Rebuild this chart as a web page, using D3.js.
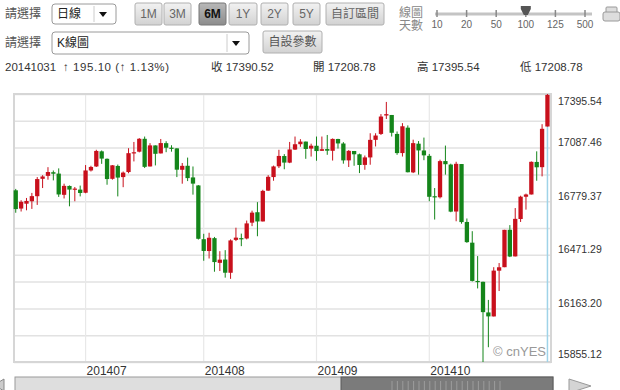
<!DOCTYPE html>
<html>
<head>
<meta charset="utf-8">
<script src="https://cdn.jsdelivr.net/npm/d3@7"></script>
<style>
  body { margin: 0; background: #fff; }
  svg { display: block; font-family: "Liberation Sans", Arial, "Noto Sans CJK TC", sans-serif; }
</style>
</head>
<body>
<div id="app"></div>
<script>
// daily candles, 100 trading days
const dates = [
  "20140612","20140613","20140616","20140617","20140618","20140619","20140620","20140623","20140624","20140625","20140626","20140627","20140630",
  "20140701","20140702","20140703","20140707","20140708","20140709","20140710","20140711","20140714","20140715","20140716","20140717","20140718","20140721","20140722","20140723","20140724","20140725","20140728","20140729","20140730","20140731",
  "20140801","20140804","20140805","20140806","20140807","20140808","20140811","20140812","20140813","20140814","20140815","20140818","20140819","20140820","20140821","20140822","20140825","20140826","20140827","20140828","20140829",
  "20140902","20140903","20140904","20140905","20140908","20140909","20140910","20140911","20140912","20140915","20140916","20140917","20140918","20140919","20140922","20140923","20140924","20140925","20140926","20140929","20140930",
  "20141001","20141002","20141003","20141006","20141007","20141008","20141009","20141010","20141013","20141014","20141015","20141016","20141017","20141020","20141021","20141022","20141023","20141024","20141027","20141028","20141029","20141030","20141031"
];
const opens = [
  16842,16737,16765,16779,16808,16908,16925,16946,16938,16816,16867,16845,16846,
  16828,16956,16979,17066,17023,16908,16982,16918,16947,17058,17064,17138,16979,17100,17054,17113,17087,17083,16960,16983,16916,16870,
  16561,16493,16567,16425,16444,16368,16557,16567,16565,16656,16716,16663,16840,16918,16980,17039,17001,17076,17107,17122,17082,
  17098,17069,17079,17069,17137,17111,17014,17068,17049,16988,17031,17132,17166,17272,17275,17166,17056,17202,16945,17110,17071,
  17040,16808,16802,17010,16990,16720,16993,16660,16541,16321,16316,16140,16117,16380,16400,16615,16462,16677,16805,16818,17005,16975,17208.78
];
const highs = [
  16850,16785,16798,16827,16918,16929,16975,16956,16968,16880,16870,16861,16869,
  16987,16983,17075,17071,17025,16987,16990,16950,17084,17120,17142,17151,17113,17100,17137,17124,17101,17084,16999,17030,16979,16872,
  16592,16598,16574,16492,16498,16560,16627,16593,16668,16725,16774,16845,16929,16984,17075,17050,17120,17151,17136,17122,17110,
  17151,17151,17160,17140,17138,17119,17073,17068,17053,17042,17170,17170,17280,17350,17275,17180,17228,17215,17133,17125,17145,
  17051,16855,17018,17099,16995,17006,16993,16680,16607,16464,16317,16212,16400,16424,16615,16642,16740,16811,16823,17008,17066,17222,17395.54
];
const lows = [
  16713,16720,16727,16735,16758,16855,16903,16899,16804,16795,16750,16779,16807,
  16825,16950,16976,16994,16874,16903,16807,16860,16940,17008,17060,16970,16979,16985,17054,17061,17064,16918,16880,16895,16817,16559,
  16437,16450,16374,16378,16340,16333,16550,16521,16560,16636,16578,16663,16839,16897,16970,16963,16998,17074,17092,17023,17036,
  17012,17068,17046,17013,17082,16995,16976,16983,16941,16960,16989,17094,17160,17252,17151,17046,17036,16945,16941,16932,17015,
  16779,16674,16795,16932,16716,16664,16650,16540,16318,16278,15855.12,15940,16117,16263,16400,16458,16462,16660,16731,16818,16897,16922,17208.78
];
const closes = [
  16734.19,16775.74,16781.01,16808.49,16906.62,16921.46,16947.08,16937.26,16818.13,16867.51,16846.13,16851.84,16826.60,
  16956.07,16976.24,17068.26,17024.21,16906.62,16985.61,16915.07,16943.81,17055.42,17060.68,17138.20,16976.81,17100.18,17051.73,17113.54,17086.63,17083.80,16960.57,16982.59,16912.11,16880.36,16563.30,
  16493.37,16569.28,16429.47,16443.34,16368.27,16553.93,16569.98,16560.54,16651.80,16713.58,16662.91,16838.74,16919.59,16979.13,17039.49,17001.22,17076.87,17106.70,17122.01,17079.57,17098.45,
  17067.56,17078.28,17069.58,17137.36,17111.42,17013.87,17068.71,17049.00,16987.51,17031.14,17131.97,17156.85,17265.99,17279.74,17172.68,17055.87,17210.06,16945.80,17113.15,17071.22,17042.90,
  16804.71,16801.05,17009.69,16991.91,16719.39,16994.22,16659.25,16544.10,16321.07,16315.19,16141.74,16117.24,16380.41,16399.67,16614.81,16461.32,16677.90,16805.41,16817.94,17005.75,16974.31,17195.42,17390.52
];
const yTickLabels = ["17395.54", "17087.46", "16779.37", "16471.29", "16163.20", "15855.12"];
const periodButtons = ["1M", "3M", "6M", "1Y", "2Y", "5Y", "自訂區間"];
const dayOptions = ["10", "20", "50", "100", "125", "500"];
const infoTexts = ["20141031", "↑ 195.10 (↑ 1.13%)", "收 17390.52", "開 17208.78", "高 17395.54", "低 17208.78"];

const W = 620, H = 390;
const svg = d3.select("#app").append("svg").attr("width", W).attr("height", H);

const defs = svg.append("defs");
function grad(id, c1, c2) {
  const g = defs.append("linearGradient").attr("id", id).attr("x1", 0).attr("y1", 0).attr("x2", 0).attr("y2", 1);
  g.append("stop").attr("offset", "0%").attr("stop-color", c1);
  g.append("stop").attr("offset", "100%").attr("stop-color", c2);
}
grad("btn", "#f2f2f2", "#d2d2d2");
grad("btnOn", "#b8b8b8", "#8c8c8c");

// ---------- top controls ----------
const ui = svg.append("g").attr("font-size", 12);

ui.selectAll("text.lbl").data([18, 47]).join("text")
  .attr("x", 5).attr("y", d => d).attr("fill", "#555").text("請選擇");

function dropdown(x, y, w, h, label, arrowX) {
  const g = ui.append("g");
  g.append("rect").attr("x", x).attr("y", y).attr("width", w).attr("height", h).attr("rx", 3)
    .attr("fill", "#fff").attr("stroke", "#9a9a9a");
  g.append("line").attr("x1", arrowX - 9).attr("x2", arrowX - 9).attr("y1", y + 2).attr("y2", y + h - 2).attr("stroke", "#ccc");
  g.append("text").attr("x", x + 5).attr("y", y + h / 2 + 4).attr("fill", "#222").text(label);
  g.append("path").attr("d", `M${arrowX - 4},${y + h / 2 - 2}L${arrowX + 4},${y + h / 2 - 2}L${arrowX},${y + h / 2 + 3}Z`).attr("fill", "#111");
}
dropdown(52, 4, 64, 20, "日線", 103);
dropdown(52, 32, 197, 22, "K線圖", 236);

const btnX = d3.scaleOrdinal().domain(periodButtons).range([135, 164, 199, 229, 261, 293, 326]);
const btnW = d3.scaleOrdinal().domain(periodButtons).range([27, 27, 27, 28, 27, 27, 58]);
const btns = ui.selectAll("g.btn").data(periodButtons).join("g").attr("class", "btn");
btns.append("rect").attr("x", d => btnX(d)).attr("y", 3).attr("width", d => btnW(d)).attr("height", 22).attr("rx", 2)
  .attr("fill", d => d === "6M" ? "url(#btnOn)" : "url(#btn)").attr("stroke", d => d === "6M" ? "#777" : "#b0b0b0");
btns.append("text").attr("x", d => btnX(d) + btnW(d) / 2).attr("y", 18).attr("text-anchor", "middle")
  .attr("fill", d => d === "6M" ? "#111" : "#666").attr("font-weight", d => d === "6M" ? "bold" : "normal").text(d => d);

ui.append("rect").attr("x", 263).attr("y", 31).attr("width", 59).attr("height", 22).attr("rx", 2)
  .attr("fill", "url(#btn)").attr("stroke", "#b0b0b0");
ui.append("text").attr("x", 292.5).attr("y", 46).attr("text-anchor", "middle").attr("fill", "#555").text("自設參數");

ui.append("text").attr("x", 399).attr("y", 17).attr("fill", "#888").text("線圖");
ui.append("text").attr("x", 399).attr("y", 30).attr("fill", "#888").text("天數");

// day slider
const sx = d3.scalePoint().domain(dayOptions).range([437, 585]);
ui.append("line").attr("x1", 435).attr("x2", 592).attr("y1", 14).attr("y2", 14).attr("stroke", "#c4c4c4").attr("stroke-width", 3);
ui.selectAll("line.tk").data(dayOptions).join("line").attr("class", "tk")
  .attr("x1", d => sx(d)).attr("x2", d => sx(d)).attr("y1", 10).attr("y2", 17).attr("stroke", "#888").attr("stroke-width", 1.5);
ui.selectAll("text.tk").data(dayOptions).join("text").attr("class", "tk")
  .attr("x", d => sx(d)).attr("y", 28).attr("text-anchor", "middle").attr("font-size", 10).attr("fill", "#666").text(d => d);
const hx = sx("100");
ui.append("path").attr("d", `M${hx - 5},6L${hx + 5},6L${hx + 5},9L${hx + 2},15L${hx - 2},15L${hx - 5},9Z`).attr("fill", "#555");

// printer icon
const ic = ui.append("g").attr("fill", "#ddd").attr("stroke", "#9a9a9a");
ic.append("rect").attr("x", 606).attr("y", 7).attr("width", 11).attr("height", 6).attr("rx", 1);
ic.append("rect").attr("x", 603).attr("y", 12).attr("width", 17).attr("height", 9).attr("rx", 2);

// info row
const infoX = d3.scaleOrdinal().domain(infoTexts).range([5, 63, 211, 313, 417, 520]);
ui.selectAll("text.info").data(infoTexts).join("text").attr("class", "info")
  .attr("x", d => infoX(d)).attr("y", 71).attr("font-size", 11.5).attr("fill", "#333")
  .attr("textLength", (d, i) => i === 1 ? 106 : null).attr("lengthAdjust", "spacing")
  .text(d => d);

// ---------- chart ----------
const plot = { left: 14, right: 551, top: 94, bottom: 362 };
const x = d3.scaleBand().domain(dates).range([13.6, 549.6]).paddingInner(0.2);
const y = d3.scaleLinear().domain([d3.min(lows), d3.max(highs)]).range([plot.bottom, plot.top]);
const xc = d => x(d) + x.bandwidth() / 2;

const chart = svg.append("g");
chart.append("rect").attr("x", plot.left).attr("y", plot.top).attr("width", plot.right - plot.left)
  .attr("height", plot.bottom - plot.top).attr("fill", "#fff");

// horizontal grid: 10 equal steps between low and high
const [lo, hi] = y.domain();
const gridVals = d3.range(11).map(k => lo + k * (hi - lo) / 10);
chart.append("g")
  .attr("transform", `translate(${plot.left},0)`)
  .call(d3.axisLeft(y).tickValues(gridVals).tickSize(-(plot.right - plot.left)).tickFormat(""))
  .call(g => g.select(".domain").remove())
  .call(g => g.selectAll("line").attr("stroke", "#e2e2e2").attr("stroke-width", 1.5));

// month lines at first trading day of each month
const monthStarts = dates.filter((d, i) => i > 0 && d.slice(4, 6) !== dates[i - 1].slice(4, 6));
chart.selectAll("line.mon").data(monthStarts).join("line").attr("class", "mon")
  .attr("x1", d => xc(d)).attr("x2", d => xc(d)).attr("y1", plot.top).attr("y2", plot.bottom)
  .attr("stroke", "#e8e8e8").attr("stroke-width", 1.2);
chart.selectAll("text.mon").data(monthStarts).join("text").attr("class", "mon")
  .attr("x", d => xc(d) + 1).attr("y", 375).attr("font-size", 12).attr("fill", "#333").text(d => d.slice(0, 6));

chart.append("rect").attr("x", plot.left).attr("y", plot.top).attr("width", plot.right - plot.left)
  .attr("height", plot.bottom - plot.top).attr("fill", "none").attr("stroke", "#d6d6d6").attr("stroke-width", 2);

// y labels
chart.selectAll("text.yl").data(yTickLabels).join("text").attr("class", "yl")
  .attr("x", 558).attr("y", d => Math.max(101, Math.min(354, y(+d) - 5)))
  .attr("dy", "0.35em").attr("font-size", 10.5).attr("fill", "#333").text(d => d);

// watermark
chart.append("text").attr("x", 546).attr("y", 356).attr("text-anchor", "end").attr("font-size", 13)
  .attr("fill", "#999").text("© cnYES");

// cursor line on last day (under the candles)
const last = dates[dates.length - 1];
chart.append("line").attr("x1", xc(last)).attr("x2", xc(last)).attr("y1", plot.top).attr("y2", plot.bottom)
  .attr("stroke", "#9fd3e8").attr("stroke-width", 1.5);

// candles
const red = "#c8101c", green = "#14851a";
const idx = d3.range(dates.length);
const col = i => closes[i] >= opens[i] ? red : green;
const candles = chart.append("g").selectAll("g").data(idx).join("g");
candles.append("line")
  .attr("x1", i => xc(dates[i])).attr("x2", i => xc(dates[i]))
  .attr("y1", i => y(highs[i])).attr("y2", i => y(lows[i]))
  .attr("stroke", col).attr("stroke-width", 1);
candles.append("rect")
  .attr("x", i => x(dates[i])).attr("width", x.bandwidth())
  .attr("y", i => y(Math.max(opens[i], closes[i])))
  .attr("height", i => Math.max(1.2, Math.abs(y(opens[i]) - y(closes[i]))))
  .attr("fill", col);

// ---------- scrollbar ----------
const sb = svg.append("g");
sb.append("rect").attr("x", 15).attr("y", 377).attr("width", 538).attr("height", 16)
  .attr("fill", "#dedede").attr("stroke", "#9a9a9a");
sb.append("rect").attr("x", 341).attr("y", 377).attr("width", 212).attr("height", 16)
  .attr("fill", "#7b7b7b").attr("stroke", "#5a5a5a");
sb.selectAll("line.grip").data(d3.range(392, 502, 5.4)).join("line").attr("class", "grip")
  .attr("x1", d => d).attr("x2", d => d).attr("y1", 381).attr("y2", 390).attr("stroke", "#9c9c9c");
sb.append("path").attr("d", "M4,379L-6,385L4,391Z").attr("fill", "#ccc").attr("stroke", "#888");
sb.append("path").attr("d", "M569,379L591,386L569,393Z").attr("fill", "#d4d4d4").attr("stroke", "#999");
</script>
</body>
</html>
